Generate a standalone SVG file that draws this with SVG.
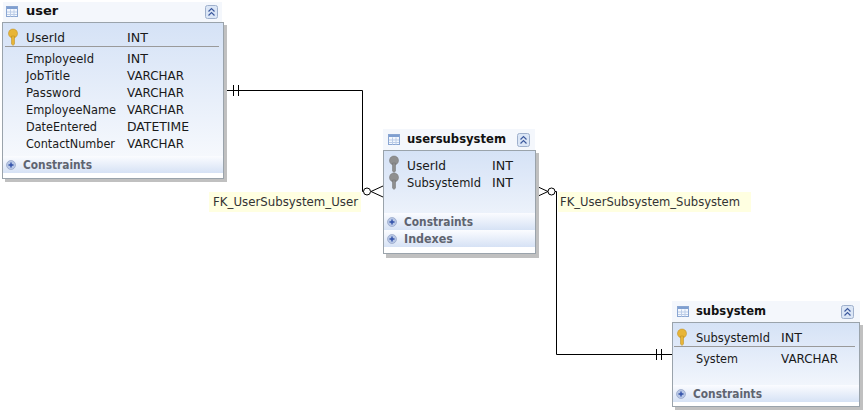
<svg xmlns="http://www.w3.org/2000/svg" width="865" height="413" viewBox="0 0 865 413">
<style>
text{font-family:"DejaVu Sans","Noto Sans",sans-serif;font-size:12px;fill:#1a1a1a}
.t{font-weight:700;font-size:13px;fill:#111}
.s{font-weight:700;fill:#5f6470}
.l{fill:#333}
.box{fill:url(#body);stroke:#9aa3ab}
.shadow{fill:#c0c0c0}
.head{fill:#f4f7fc}
.bar{fill:url(#bar)}
.c{fill:none;stroke:#000;stroke-width:1}
.w{fill:#fff;stroke:#000;stroke-width:1}
.lab{fill:#ffffe1}
.sep{stroke:#9a9a9a;stroke-width:1}
.plus{fill:#b9c8e6;stroke:#8c9bc0;stroke-width:.6}
.pm{stroke:#2f4fa8;stroke-width:1.4}
.btn{fill:#dbe6f6;stroke:#9fb0cc}
.chev{fill:none;stroke:#3d5a9e;stroke-width:1.2}
.ico{fill:#f4f8fe;stroke:#8aa6d2}
.icoh{fill:#7f9fd0}
.kg{fill:#e8b537;stroke:#b8891a;stroke-width:.5}
.kh{fill:#8f8f8f;stroke:#707070;stroke-width:.5}
</style>
<defs>
<linearGradient id="body" x1="0" y1="0" x2="0" y2="1"><stop offset="0" stop-color="#d5e2f6"/><stop offset="1" stop-color="#fbfcfe"/></linearGradient>
<linearGradient id="bar" x1="0" y1="0" x2="0" y2="1"><stop offset="0" stop-color="#fbfcff"/><stop offset="1" stop-color="#d6e2f5"/></linearGradient>
<g id="tbl"><rect class="ico" x="0.5" y="0.5" width="11" height="10"/><rect class="icoh" x="1" y="1" width="10" height="2"/><path d="M1 6h10M1 8.500h10M4.500 3.500v7M8 3.500v7" stroke="#bccde8" stroke-width="1"/></g>
<g id="btn"><rect class="btn" x="0.500" y="0.500" width="12" height="13" rx="2"/><path class="chev" d="M3.500 6.500l3-3 3 3M3.500 10.500l3-3 3 3"/></g>
<g id="plus"><circle class="plus" cx="5" cy="5" r="4.500"/><path class="pm" d="M2.500 5h5M5 2.500v5"/></g>
<g id="key"><circle cx="5" cy="4.500" r="4.500"/><path d="M3.500 7h3v8l-1.500 1.500-1.500-1.500z"/></g>
</defs>
<g id="connectors">
<path class="c" d="M224 90.500H362.500V191.500H364"/>
<path class="c" d="M233.500 85V96M238.500 85V96"/>
<path class="c" d="M383 186L371 191.500L383 197"/>
<circle class="w" cx="367" cy="191.500" r="3.500"/>
<path class="c" d="M536 186L548 191.500L536 197"/>
<circle class="w" cx="551.500" cy="191.500" r="3.500"/>
<path class="c" d="M555 191.500H556.500V354.500H672"/>
<path class="c" d="M656.500 349V360M661.500 349V360"/>
</g>
<g id="label-user"><rect class="lab" x="209" y="192" width="152" height="20"/><text class="l" x="213" y="206" textLength="145" lengthAdjust="spacingAndGlyphs">FK_UserSubsystem_User</text></g>
<g id="label-subsystem"><rect class="lab" x="558" y="192" width="193" height="20"/><text class="l" x="560" y="206" textLength="180" lengthAdjust="spacingAndGlyphs">FK_UserSubsystem_Subsystem</text></g>
<g id="user">
<rect class="head" x="3" y="2" width="219" height="20"/>
<rect class="shadow" x="5" y="25" width="222" height="157"/>
<rect class="box" x="2.500" y="22.500" width="221" height="156"/>
<rect class="bar" x="3" y="156" width="220" height="17"/>
<rect fill="#fff" x="3" y="173" width="220" height="5"/>
<use href="#tbl" x="6" y="6"/>
<text class="t" x="26" y="15">user</text>
<use href="#btn" x="205" y="5"/>
<use href="#key" class="kg" x="8" y="29"/>
<path class="sep" d="M5 46.500H219"/>
<text x="26" y="42" textLength="39" lengthAdjust="spacingAndGlyphs">UserId</text><text x="127" y="42" textLength="21" lengthAdjust="spacingAndGlyphs">INT</text>
<text x="26" y="63" textLength="68" lengthAdjust="spacingAndGlyphs">EmployeeId</text><text x="127" y="63" textLength="21" lengthAdjust="spacingAndGlyphs">INT</text>
<text x="26" y="80" textLength="44" lengthAdjust="spacingAndGlyphs">JobTitle</text><text x="127" y="80" textLength="57" lengthAdjust="spacingAndGlyphs">VARCHAR</text>
<text x="26" y="97" textLength="55" lengthAdjust="spacingAndGlyphs">Password</text><text x="127" y="97" textLength="57" lengthAdjust="spacingAndGlyphs">VARCHAR</text>
<text x="26" y="114" textLength="90" lengthAdjust="spacingAndGlyphs">EmployeeName</text><text x="127" y="114" textLength="57" lengthAdjust="spacingAndGlyphs">VARCHAR</text>
<text x="26" y="131" textLength="71" lengthAdjust="spacingAndGlyphs">DateEntered</text><text x="127" y="131" textLength="62" lengthAdjust="spacingAndGlyphs">DATETIME</text>
<text x="26" y="148" textLength="89" lengthAdjust="spacingAndGlyphs">ContactNumber</text><text x="127" y="148" textLength="57" lengthAdjust="spacingAndGlyphs">VARCHAR</text>
<use href="#plus" x="6" y="160"/>
<text class="s" x="23" y="169" textLength="69" lengthAdjust="spacingAndGlyphs">Constraints</text>
</g>
<g id="usersubsystem">
<rect class="head" x="383" y="129" width="152" height="21"/>
<rect class="shadow" x="386" y="153" width="153" height="105"/>
<rect class="box" x="383.500" y="150.500" width="152" height="103"/>
<rect class="bar" x="384" y="213" width="151" height="17"/>
<rect class="bar" x="384" y="230" width="151" height="17"/>
<rect fill="#fff" x="384" y="247" width="151" height="6"/>
<use href="#tbl" x="388" y="134"/>
<text class="t" x="407" y="143" textLength="99" lengthAdjust="spacingAndGlyphs">usersubsystem</text>
<use href="#btn" x="517" y="133"/>
<use href="#key" class="kh" x="389" y="156"/>
<use href="#key" class="kh" x="389" y="173"/>
<text x="407" y="170" textLength="39" lengthAdjust="spacingAndGlyphs">UserId</text><text x="492" y="170" textLength="21" lengthAdjust="spacingAndGlyphs">INT</text>
<text x="407" y="187" textLength="74" lengthAdjust="spacingAndGlyphs">SubsystemId</text><text x="492" y="187" textLength="21" lengthAdjust="spacingAndGlyphs">INT</text>
<use href="#plus" x="387" y="217"/>
<text class="s" x="404" y="226" textLength="69" lengthAdjust="spacingAndGlyphs">Constraints</text>
<use href="#plus" x="387" y="234"/>
<text class="s" x="404" y="243" textLength="49" lengthAdjust="spacingAndGlyphs">Indexes</text>
</g>
<g id="subsystem">
<rect class="head" x="672" y="301" width="188" height="21"/>
<rect class="shadow" x="675" y="325" width="188" height="85"/>
<rect class="box" x="672.500" y="322.500" width="187" height="84"/>
<rect class="bar" x="673" y="385" width="186" height="17"/>
<rect fill="#fff" x="673" y="402" width="186" height="4"/>
<use href="#tbl" x="677" y="306"/>
<text class="t" x="696" y="315" textLength="70" lengthAdjust="spacingAndGlyphs">subsystem</text>
<use href="#btn" x="841" y="305"/>
<use href="#key" class="kg" x="677" y="329"/>
<path class="sep" d="M674 346.500H855"/>
<text x="696" y="342" textLength="74" lengthAdjust="spacingAndGlyphs">SubsystemId</text><text x="781" y="342" textLength="21" lengthAdjust="spacingAndGlyphs">INT</text>
<text x="696" y="363" textLength="42" lengthAdjust="spacingAndGlyphs">System</text><text x="781" y="363" textLength="57" lengthAdjust="spacingAndGlyphs">VARCHAR</text>
<use href="#plus" x="676" y="389"/>
<text class="s" x="693" y="398" textLength="69" lengthAdjust="spacingAndGlyphs">Constraints</text>
</g>
</svg>
